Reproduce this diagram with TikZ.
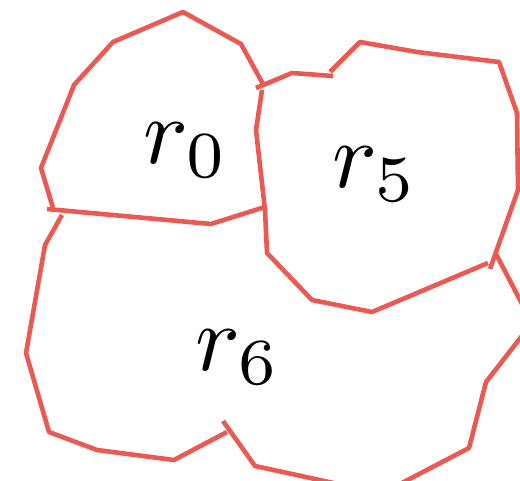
\documentclass[tikz,border=0pt]{standalone}
\definecolor{edgered}{RGB}{234,90,82}
\begin{document}
\begin{tikzpicture}[x=1pt,y=-1pt,
  reg/.style={draw=edgered,line width=4.6pt,line join=round},
  lab/.style={inner sep=0pt,scale=9.4}]
\useasboundingbox (0,0) rectangle (520,481);
\clip (0,0) rectangle (520,481);
% region r0
\draw[reg] (263,84) -- (241,44) -- (183,12) -- (113,42) -- (74,85) -- (41,168) -- (53,208);
\draw[reg] (47,209) -- (211,224) -- (265,207);
% region r5
\draw[reg] (262,90) -- (256,130) -- (265,210) -- (267,253) -- (312,300) -- (372,312) -- (488,263);
\draw[reg] (256,88) -- (292,73) -- (333,76);
\draw[reg] (330,72) -- (360,42) -- (417,52) -- (499,62) -- (517,113) -- (518,190) -- (490,269);
% region r6
\draw[reg] (62,215) -- (45,245) -- (26,353) -- (49,432) -- (97,450) -- (174,460) -- (227,432);
\draw[reg] (223,421) -- (255,466) -- (338,484);
\draw[reg] (400,484) -- (469,448) -- (486,382) -- (532,323) -- (496,254);
% labels
\node[lab] (r0) at (186,150) {$r_0$};
\node[lab] (r5) at (375,174) {$r_5$};
\node[lab] (r6) at (238,357) {$r_6$};
\end{tikzpicture}
\end{document}
